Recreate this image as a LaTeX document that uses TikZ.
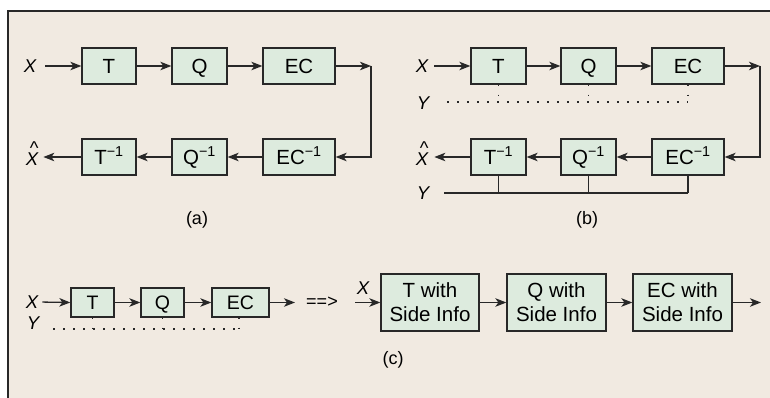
\documentclass[tikz,border=0pt]{standalone}
\usepackage{fontspec}
\setmainfont{Liberation Sans}
\usetikzlibrary{arrows.meta}
\definecolor{bg}{RGB}{241,234,225}
\definecolor{boxg}{RGB}{221,235,222}
\definecolor{ink}{RGB}{40,40,40}
\newcommand{\hatX}{\makebox[0pt][l]{\upshape\kern4pt\raisebox{10.5pt}{\textasciicircum}}X}
\begin{document}
\begin{tikzpicture}[x=1pt,y=-1pt,
  blk/.style={draw=ink,fill=boxg,line width=1.3pt,minimum height=36pt,inner sep=0pt,
    text height=15pt,text depth=0pt,font=\fontsize{20.5}{24}\selectfont},
  sblk/.style={draw=ink,fill=boxg,line width=1.3pt,minimum height=29pt,inner sep=0pt,
    text height=14pt,text depth=0pt,font=\fontsize{19.5}{22}\selectfont},
  wblk/.style={draw=ink,fill=boxg,line width=1.3pt,minimum height=57pt,minimum width=98pt,inner sep=0pt,
    align=center,font=\fontsize{20.5}{24}\selectfont},
  lab/.style={inner sep=0pt,text height=13pt,text depth=0pt,font=\fontsize{18.5}{20}\selectfont\itshape},
  capt/.style={inner sep=0pt,font=\fontsize{18}{22}\selectfont},
  arr/.style={draw=ink,line width=1.3pt,-{Stealth[length=11pt,width=8.5pt,inset=3pt]}},
  ln/.style={draw=ink,line width=1.3pt},
  dotln/.style={draw=ink,line width=1.6pt,dash pattern=on 1.6pt off 8.4pt},
]
\useasboundingbox (0,0) rectangle (770,398);
\fill[white] (0,0) rectangle (770,398);
\fill[bg] (8,11) rectangle (770,398);
\draw[ink,line width=2pt] (8,398) -- (8,11) -- (770,11);

% ---------- panel (a)
\node[lab] (aX) at (30,66) {X};
\node[blk,minimum width=54pt] (aT) at (109,66) {T};
\node[blk,minimum width=55pt] (aQ) at (199.5,66) {Q};
\node[blk,minimum width=72pt] (aE) at (299,66) {EC};
\node[blk,minimum width=54pt] (aTi) at (109,157) {T\textsuperscript{−1}};
\node[blk,minimum width=55pt] (aQi) at (199.5,157) {Q\textsuperscript{−1}};
\node[blk,minimum width=72pt] (aEi) at (299,157) {EC\textsuperscript{−1}};
\node[lab] (aXh) at (32,159) {\hatX};
\coordinate (ac1) at (371,66);
\coordinate (ac2) at (371,157);
\draw[arr,shorten <=9pt] (aX.east) -- (aT.west);
\draw[arr] (aT.east) -- (aQ.west);
\draw[arr] (aQ.east) -- (aE.west);
\draw[arr] (aE.east) -- (ac1);
\draw[arr] (ac1) -- (ac2) -- (aEi.east);
\draw[arr] (aEi.west) -- (aQi.east);
\draw[arr] (aQi.west) -- (aTi.east);
\draw[arr,shorten >=5pt] (aTi.west) -- (aXh.east |- aTi.west);
\node[capt] (acap) at (197,220) {(a)};

% ---------- panel (b)
\node[lab] (bX) at (422,66) {X};
\node[blk,minimum width=55pt] (bT) at (498.5,66) {T};
\node[blk,minimum width=55pt] (bQ) at (588.5,66) {Q};
\node[blk,minimum width=72pt] (bE) at (688,66) {EC};
\node[blk,minimum width=55pt] (bTi) at (498.5,157) {T\textsuperscript{−1}};
\node[blk,minimum width=55pt] (bQi) at (588.5,157) {Q\textsuperscript{−1}};
\node[blk,minimum width=72pt] (bEi) at (688,157) {EC\textsuperscript{−1}};
\node[lab] (bXh) at (422,159) {\hatX};
\node[lab] (bY1) at (423,103) {Y};
\node[lab] (bY2) at (423,193) {Y};
\coordinate (bc1) at (760,66);
\coordinate (bc2) at (760,157);
\coordinate (by1s) at (447,102);
\coordinate (by1e) at (688,102);
\coordinate (by2s) at (444,193);
\coordinate (by2e) at (688,193);
\draw[arr,shorten <=6pt] (bX.east) -- (bT.west);
\draw[arr] (bT.east) -- (bQ.west);
\draw[arr] (bQ.east) -- (bE.west);
\draw[arr] (bE.east) -- (bc1);
\draw[arr] (bc1) -- (bc2) -- (bEi.east);
\draw[arr] (bEi.west) -- (bQi.east);
\draw[arr] (bQi.west) -- (bTi.east);
\draw[arr,shorten >=6pt] (bTi.west) -- (bXh.east |- bTi.west);
\draw[dotln] (by1s) -- (by1e);
\draw[dotln] (bT.south) -- (bT.south |- by1s);
\draw[dotln] (bQ.south) -- (bQ.south |- by1s);
\draw[dotln] (bE.south) -- (by1e);
\draw[ln] (by2s) -- (by2e);
\draw[ln] (bTi.south) -- (bTi.south |- by2s);
\draw[ln] (bQi.south) -- (bQi.south |- by2s);
\draw[ln] (bEi.south) -- (by2e);
\node[capt] (bcap) at (587,220) {(b)};

% ---------- panel (c) left
\node[lab] (cX) at (32,302) {X};
\node[sblk,minimum width=43pt] (cT) at (92.5,302.5) {T};
\node[sblk,minimum width=43pt] (cQ) at (162.5,302.5) {Q};
\node[sblk,minimum width=57pt] (cE) at (240.5,302.5) {EC};
\node[lab] (cY) at (33,323) {Y};
\coordinate (cyS) at (53,329);
\coordinate (cyE) at (239,329);
\coordinate (cout) at (295,302.5);
\draw[arr,shorten <=4pt] (cX.east) -- (cT.west);
\draw[arr] (cT.east) -- (cQ.west);
\draw[arr] (cQ.east) -- (cE.west);
\draw[arr] (cE.east) -- (cout);
\draw[dotln] (cyS) -- (cyE);
\draw[dotln] (cT.south) -- (cT.south |- cyS);
\draw[dotln] (cQ.south) -- (cQ.south |- cyS);
\draw[dotln] (cE.south -| cyE) -- (cyE);
\node[inner sep=0pt,font=\fontsize{18}{22}\selectfont] (imp) at (322,302) {==>};

% ---------- panel (c) right
\node[lab] (dX) at (363,288) {X};
\coordinate (din) at (355,302.5);
\node[wblk] (dT) at (430,302.5) {T with\\Side Info};
\node[wblk,minimum width=99pt] (dQ) at (556.5,302.5) {Q with\\Side Info};
\node[wblk,minimum width=99pt] (dE) at (682.5,302.5) {EC with\\Side Info};
\coordinate (dout) at (761,302.5);
\draw[arr] (din) -- (dT.west);
\draw[arr] (dT.east) -- (dQ.west);
\draw[arr] (dQ.east) -- (dE.west);
\draw[arr] (dE.east) -- (dout);
\node[capt] (ccap) at (393,360) {(c)};
\end{tikzpicture}
\end{document}
